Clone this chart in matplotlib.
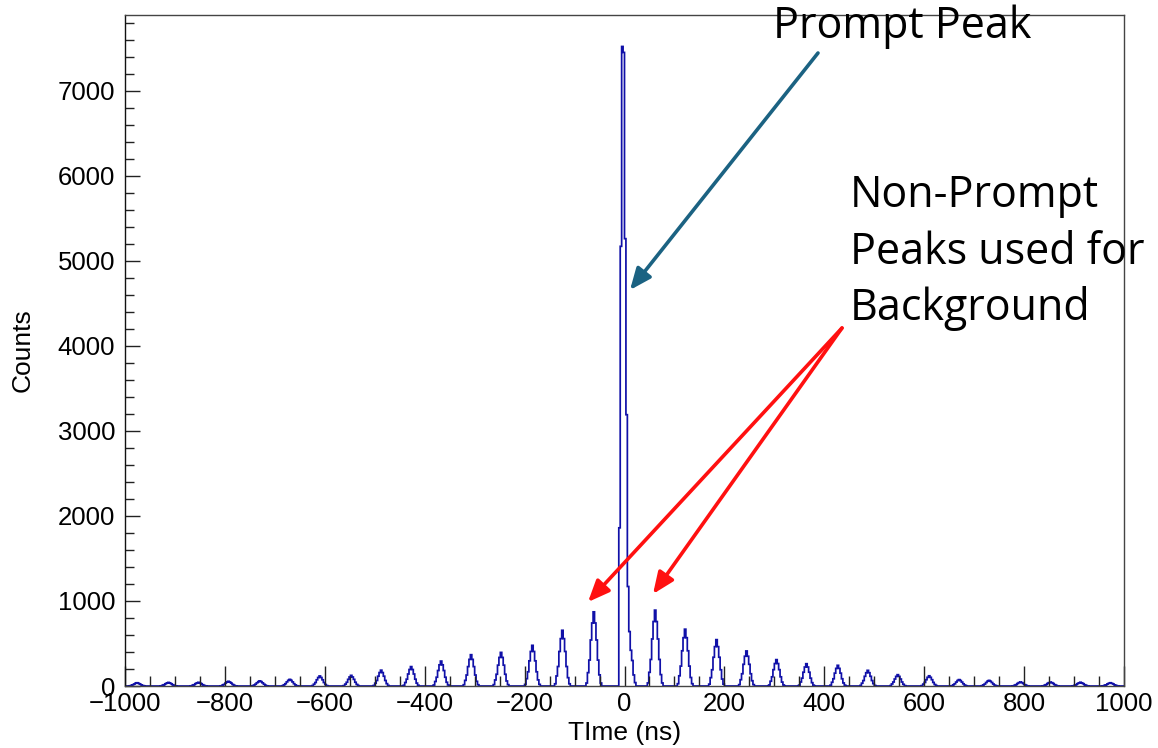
import numpy as np
import matplotlib
matplotlib.use("Agg")
import matplotlib.pyplot as plt
from matplotlib.ticker import MultipleLocator

# ---------------- data ----------------
n_bins = 700
x_min, x_max = -1000.0, 1000.0

# prompt peak: counts per bin, first listed bin is prompt_first_bin bins left of t=0
prompt_first_bin = 4
prompt_counts = [1860, 5170, 7520, 7450, 5260, 3190, 1170, 640, 420, 300, 130, 40]

# non-prompt (side) peaks: centres (ns) and heights (counts)
side_centres = [-975, -914, -853, -792, -731, -670, -609, -548, -487, -426,
                -366, -306, -246, -185, -124, -62,
                62, 122, 183, 244, 305, 365, 426, 487, 548, 609, 670, 731,
                792, 852, 913, 974]
side_heights = [38, 42, 43, 55, 60, 78, 118, 125, 186, 228,
                293, 368, 395, 478, 655, 872,
                892, 668, 545, 412, 310, 262, 243, 184, 133, 120, 75, 66,
                47, 46, 44, 38]
# relative shape of a side peak, one value per bin; index 5 is the maximum
side_profile = [0.04, 0.18, 0.35, 0.62, 0.85, 1.0, 0.85, 0.62, 0.35, 0.15, 0.04]
side_peak_index = 5

x_ticks = [-1000, -800, -600, -400, -200, 0, 200, 400, 600, 800, 1000]
y_ticks = [0, 1000, 2000, 3000, 4000, 5000, 6000, 7000]

# ---------------- build the histogram ----------------
edges = np.linspace(x_min, x_max, n_bins + 1)
bw = edges[1] - edges[0]
counts = np.zeros(n_bins)

i_zero = int(round((0 - x_min) / bw))
i0 = i_zero - prompt_first_bin
counts[i0:i0 + len(prompt_counts)] += prompt_counts

for c, h in zip(side_centres, side_heights):
    ic = int(np.floor((c - x_min) / bw))
    start = ic - side_peak_index
    for k, p in enumerate(side_profile):
        j = start + k
        if 0 <= j < n_bins:
            counts[j] += h * p

counts = np.round(counts)

# ---------------- figure ----------------
W, H = 1158, 748
fig = plt.figure(figsize=(W / 100, H / 100), dpi=100)
ax = fig.add_axes([125 / W, 1 - 686 / H, (1124 - 125) / W, (686 - 15) / H])

ax.stairs(counts, edges, color="#1010a8", linewidth=1.25)

ax.set_xlim(x_min, x_max)
ax.set_ylim(0, 7890)

tick_font = dict(family=["Liberation Sans", "DejaVu Sans"], size=18.5)
ax.set_xticks(x_ticks)
ax.set_yticks(y_ticks)
ax.set_xticklabels([f"{t}".replace("-", "\u2212") for t in x_ticks], **tick_font)
ax.set_yticklabels([f"{t}" for t in y_ticks], **tick_font)
ax.xaxis.set_minor_locator(MultipleLocator(50))
ax.yaxis.set_minor_locator(MultipleLocator(200))

ax.tick_params(axis="x", which="major", direction="in", length=14.5, width=1.0,
               pad=4, color="#222222", top=False)
ax.tick_params(axis="x", which="minor", direction="in", length=7.2, width=1.0,
               color="#222222", top=False)
ax.tick_params(axis="y", which="major", direction="in", length=10.5, width=1.0,
               pad=7, color="#222222", right=False)
ax.tick_params(axis="y", which="minor", direction="in", length=6.5, width=1.0,
               color="#222222", right=False)

for s in ax.spines.values():
    s.set_linewidth(1.0)
    s.set_color("#444444")
ax.spines["left"].set_color("#111111")

label_font = dict(family=["Liberation Sans", "DejaVu Sans"], size=19)
ax.set_xlabel("TIme (ns)", labelpad=4, **label_font)
ax.set_ylabel("Counts", labelpad=17, **label_font)

# ---------------- annotations ----------------
ann_font = dict(family=["Open Sans", "DejaVu Sans"], size=31, color="black")
fig.text(773 / W, 1 - 38 / H, "Prompt Peak", ha="left", va="baseline", **ann_font)
fig.text(850 / W, 1 - 207 / H, "Non-Prompt", ha="left", va="baseline", **ann_font)
fig.text(850 / W, 1 - 264 / H, "Peaks used for", ha="left", va="baseline", **ann_font)
fig.text(850 / W, 1 - 320 / H, "Background", ha="left", va="baseline", **ann_font)

def fig_arrow(x0, y0, x1, y1, color):
    ax.annotate("", xy=(x1 / W, 1 - y1 / H), xycoords="figure fraction",
                xytext=(x0 / W, 1 - y0 / H), textcoords="figure fraction",
                arrowprops=dict(arrowstyle="-|>,head_length=1.3,head_width=0.55",
                                color=color, lw=2.6, shrinkA=0, shrinkB=0),
                annotation_clip=False)

fig_arrow(818, 53, 630, 290, "#1b6282")
fig_arrow(842, 328, 588, 602, "#ff1010")
fig_arrow(842, 328, 653, 594, "#ff1010")

fig.savefig("out.png", dpi=100, facecolor="white")
